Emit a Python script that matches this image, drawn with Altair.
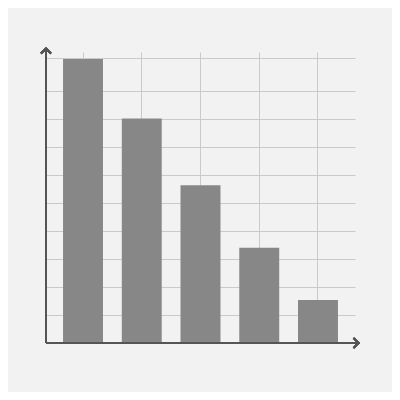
import pandas as pd
import altair as alt

# bar values (no labels shown)
categories = ["A", "B", "C", "D", "E"]
values = [10.15, 8.02, 5.64, 3.40, 1.54]
grid_values = [1, 2, 3, 4, 5, 6, 7, 8, 9, 10.19]

df = pd.DataFrame({"cat": categories, "value": values})

W, H = 309, 291
bar_color = "#878787"
axis_color = "#555555"
grid_color = "#cacaca"

bars = alt.Chart(df).mark_bar(color=bar_color).encode(
    x=alt.X("cat:N", sort=categories,
            scale=alt.Scale(paddingInner=0.32, paddingOuter=0.29),
            axis=alt.Axis(labels=False, ticks=False, domain=False, title=None,
                          grid=True, gridColor=grid_color, gridWidth=1)),
    y=alt.Y("value:Q", scale=alt.Scale(domain=[0, 10.4], nice=False, zero=True),
            axis=alt.Axis(labels=False, ticks=False, domain=False, title=None,
                          values=grid_values, grid=True,
                          gridColor=grid_color, gridWidth=1)),
)

# axis lines with arrow heads
y_line = alt.Chart(df).mark_rule(color=axis_color, strokeWidth=2).encode(
    x=alt.value(0), y=alt.value(H), y2=alt.value(-3)
)
x_line = alt.Chart(df).mark_rule(color=axis_color, strokeWidth=2).encode(
    x=alt.value(0), x2=alt.value(W + 5), y=alt.value(H)
)
up_head = alt.Chart(df).mark_point(
    shape="M-1,0.1L0,-0.9L1,0.1", filled=False, color=axis_color,
    strokeWidth=2, size=100, opacity=1
).encode(x=alt.value(0), y=alt.value(1))
right_head = alt.Chart(df).mark_point(
    shape="M-0.5,-1L0.5,0L-0.5,1", filled=False, color=axis_color,
    strokeWidth=2, size=100, opacity=1
).encode(x=alt.value(W + 1), y=alt.value(H))

chart = alt.layer(bars, y_line, x_line, up_head, right_head).properties(
    width=W, height=H,
    autosize=alt.AutoSizeParams(type="none"),
    padding={"left": 38, "top": 44, "right": 37, "bottom": 49},
    background="#f2f2f2",
).configure_view(stroke=None)

chart.save("out.html", embed_options={"renderer": "svg", "actions": False})
